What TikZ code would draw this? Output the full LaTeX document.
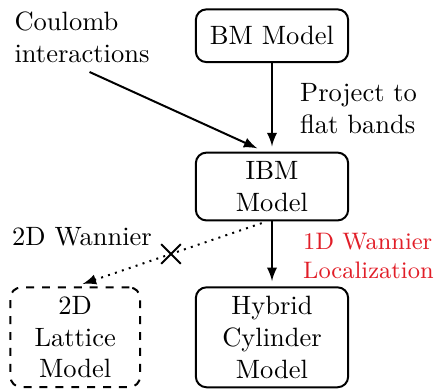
\documentclass[tikz,border=0pt]{standalone}
\usepackage{xcolor}
\usepackage{tikz}
\usetikzlibrary{arrows, positioning}
\definecolor{wannierred}{RGB}{225,30,40}
\tikzstyle{model}=[rectangle, draw, rounded corners=4pt, line width=0.75pt, align=center, minimum width=2.02cm, minimum height=0.7cm]

\begin{document}
\begin{tikzpicture}
		\useasboundingbox (-3.608, -2.686) rectangle (2.162, 2.474);
		\node[model] (bm) at (0, 2.0) {BM Model};
		\node[model] (ibm) at (0, 0) {IBM\\Model};
		\node[model] (hybrid) at (0, -2.0) {Hybrid\\Cylinder\\Model};
		\node[model, dashed, minimum width=1.72cm] (lattice) at (-2.61, -2.0) {2D\\Lattice\\Model};
		\node[align=left] (coulomb) at (-2.52, 1.98) {Coulomb\\interactions};
		\node[align=left, anchor=west] (project) at (0.25, 1.03) {Project to\\flat bands};
		\node[align=left, anchor=west, text=wannierred, font=\small] (wannier1d) at (0.29, -0.92) {1D Wannier\\Localization};
		\node (wannier2d) at (-2.52, -0.66) {2D Wannier};
		\draw[-latex] (bm) edge[line width=0.75pt, shorten >=2pt] (ibm);
		\draw[-latex] (ibm) edge[line width=0.75pt, shorten >=2pt] (hybrid);
		\draw[-latex, line width=0.75pt, shorten >=3pt] ([xshift=0.1cm]coulomb.south) -- ([xshift=-0.1cm]ibm.north);
		\draw[-latex, line width=0.75pt, dotted, shorten <=2pt, shorten >=3pt] ([xshift=-0.07cm]ibm.south) -- (lattice.north) coordinate[pos=0.5] (block);
		% blocked route
		\draw[line width=0.75pt] (block) +(-0.13, -0.13) -- +(0.13, 0.13) (block) +(-0.13, 0.13) -- +(0.13, -0.13);
	\end{tikzpicture}
\end{document}
